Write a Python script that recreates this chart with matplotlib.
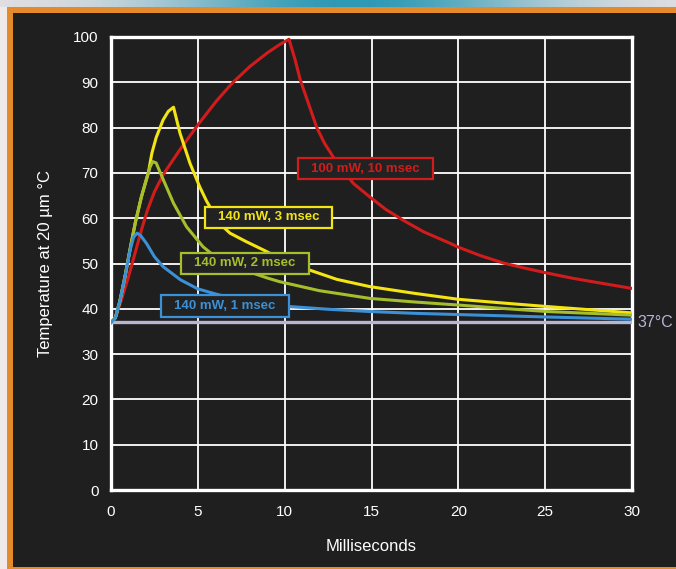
import numpy as np
import matplotlib
matplotlib.use("Agg")
import matplotlib.pyplot as plt
from matplotlib.patches import Rectangle
from matplotlib.path import Path

plt.rcParams['font.family'] = ['Liberation Sans', 'DejaVu Sans']

######## data ########
# red: 100 mW, 10 msec
t_red = [0, 0.25, 0.6, 1.0, 1.4, 1.8, 2.1, 2.5, 3.0, 4.0, 5.1, 6.1, 7.0, 8.0, 9.0, 9.7, 10.25,
         10.6, 10.9, 11.4, 11.85, 12.3, 12.8, 13.95, 14.9, 15.8, 16.8, 18.0, 19.5, 20.0, 21.3,
         22.6, 23.8, 25.1, 26.5, 28.0, 30.0]
T_red = [37, 38, 42, 47, 52.5, 58, 61.8, 65.8, 69.6, 75.3, 81.1, 86, 89.9, 93.5, 96.5, 98.3, 99.5,
         95, 90.5, 85, 80, 76.5, 73.5, 67.7, 64.7, 62, 59.6, 57, 54.5, 53.6, 51.7,
         50.1, 49, 47.9, 46.8, 45.8, 44.5]

# yellow: 140 mW, 3 msec
t_yel = [0, 0.25, 0.5, 0.8, 1.1, 1.4, 1.75, 2.15, 2.35, 2.6, 3.0, 3.3, 3.6, 3.97, 4.55, 5.1,
         5.5, 6.0, 6.4, 6.85, 7.8, 8.77, 10.0, 11.4, 13.0, 14.9, 17.5, 20.0, 22.5, 25.1, 30.0]
T_yel = [37, 38, 41.5, 47, 53.2, 59, 64.7, 70, 74.3, 77.8, 81.7, 83.6, 84.5, 78.8, 72.1, 67,
         63.8, 60.5, 58.3, 56.7, 54.8, 53, 50.6, 48.6, 46.5, 44.9, 43.4, 42.1, 41.3, 40.5, 39.1]

# green: 140 mW, 2 msec
t_grn = [0, 0.25, 0.5, 0.8, 1.1, 1.4, 1.75, 2.05, 2.25, 2.4, 2.6, 3.0, 3.6, 4.35, 5.3,
         6.0, 7.0, 8.0, 9.0, 9.7, 12.0, 14.9, 17.5, 20.1, 22.5, 25.1, 30.0]
T_grn = [37, 38, 41.5, 47, 53.2, 59, 64.7, 68.8, 71.3, 72.5, 72.2, 68.6, 63.3, 58.1, 53.7,
         51.5, 49.6, 48.1, 46.8, 46, 44, 42.3, 41.5, 40.8, 40.1, 39.4, 38.6]

# blue: 140 mW, 1 msec
t_blu = [0, 0.25, 0.5, 0.8, 1.1, 1.3, 1.5, 1.7, 2.05, 2.5, 3.0, 4.0, 5.0, 6.0, 7.0, 8.5,
         10.3, 12.5, 14.9, 17.5, 21.2, 25.0, 30.0]
T_blu = [37, 38, 41.5, 47, 53, 55.8, 56.7, 56.2, 54.4, 51.5, 49.3, 46.4, 44.4, 43.3, 42.3, 41.3,
         40.5, 39.9, 39.4, 39, 38.6, 38.2, 37.7]

t_base = [0, 30]
T_base = [37, 37]

labels = ['100 mW, 10 msec', '140 mW, 3 msec', '140 mW, 2 msec', '140 mW, 1 msec']
lab_t = [14.65, 9.07, 7.7, 6.56]
lab_T = [70.9, 60.2, 50.0, 40.6]

c_red = '#d21c1c'
c_yel = '#f3e413'
c_grn = '#a6be2c'
c_blu = '#3b90d6'
c_base = '#b8b5d4'
bg = '#1f1f1f'


def label_box(x0, y0, width, height, mutation_size):
    # wider than tall padding, like the boxes of the original
    px = 1.0 * mutation_size
    py = 0.35 * mutation_size
    return Path([(x0 - px, y0 - py), (x0 + width + px, y0 - py),
                 (x0 + width + px, y0 + height + py), (x0 - px, y0 + height + py),
                 (x0 - px, y0 - py)], closed=True)


fig = plt.figure(figsize=(6.76, 5.69), dpi=100, facecolor=bg)

# frame of the picture: top gradient, light strip at left, orange border
W, H = 676., 569.
grad = fig.add_axes([0, 1 - 7 / H, 1, 7 / H])
g = np.linspace(0, 1, 256)
c1 = np.array([0.90, 0.88, 0.89])
c2 = np.array([0.18, 0.60, 0.71])
w = np.exp(-((g - 0.52) / 0.28) ** 2)
img = (c1[None, :] * (1 - w[:, None]) + c2[None, :] * w[:, None])[None, :, :]
grad.imshow(img, aspect='auto', extent=[0, 1, 0, 1])
grad.axis('off')
fig.patches.append(Rectangle((0, 0), 7 / W, 1 - 7 / H, transform=fig.transFigure,
                             facecolor='#f0e9e9', edgecolor='none'))
orange = '#e58a2b'
fig.patches.append(Rectangle((7 / W, 0), 5.7 / W, 1 - 7 / H, transform=fig.transFigure,
                             facecolor=orange, edgecolor='none'))
fig.patches.append(Rectangle((7 / W, 1 - 12.5 / H), 1, 5.5 / H, transform=fig.transFigure,
                             facecolor=orange, edgecolor='none'))
fig.patches.append(Rectangle((7 / W, 0), 1, 2.3 / H, transform=fig.transFigure,
                             facecolor=orange, edgecolor='none'))

ax = fig.add_axes([111 / W, 79 / H, 521 / W, 453 / H])
ax.set_facecolor(bg)
ax.set_xlim(0, 30)
ax.set_ylim(0, 100)
ax.set_xticks(range(0, 31, 5))
ax.set_yticks(range(0, 101, 10))
ax.grid(True, color='white', lw=1.3)
ax.set_axisbelow(True)
for s in ax.spines.values():
    s.set_color('white')
    s.set_linewidth(2.4)
ax.tick_params(length=0, colors='white', labelsize=11)
ax.tick_params(axis='x', pad=11)
ax.tick_params(axis='y', pad=9)

ax.plot(t_base, T_base, color=c_base, lw=2.4, zorder=3)
ax.plot(t_red, T_red, color=c_red, lw=2.2, zorder=4)
ax.plot(t_yel, T_yel, color=c_yel, lw=2.2, zorder=4)
ax.plot(t_grn, T_grn, color=c_grn, lw=2.2, zorder=4)
ax.plot(t_blu, T_blu, color=c_blu, lw=2.2, zorder=4)

for lab, x, y, c in zip(labels, lab_t, lab_T, [c_red, c_yel, c_grn, c_blu]):
    ax.text(x, y, lab, color=c, fontsize=9.5, fontweight='bold', ha='center', va='center',
            zorder=6, bbox=dict(boxstyle=label_box, facecolor='#222222',
                                edgecolor=c, lw=1.6))

ax.annotate('37°C', xy=(30, 37), xytext=(4, 0), textcoords='offset points',
            color=c_base, fontsize=11.5, va='center', ha='left', annotation_clip=False)

ax.set_xlabel('Milliseconds', color='white', fontsize=12)
ax.xaxis.set_label_coords(0.5, -0.108)
ax.set_ylabel('Temperature at 20 µm °C', color='white', fontsize=12)
ax.yaxis.set_label_coords(-0.112, 0.5)

plt.savefig('out.png', dpi=100, facecolor=fig.get_facecolor())
